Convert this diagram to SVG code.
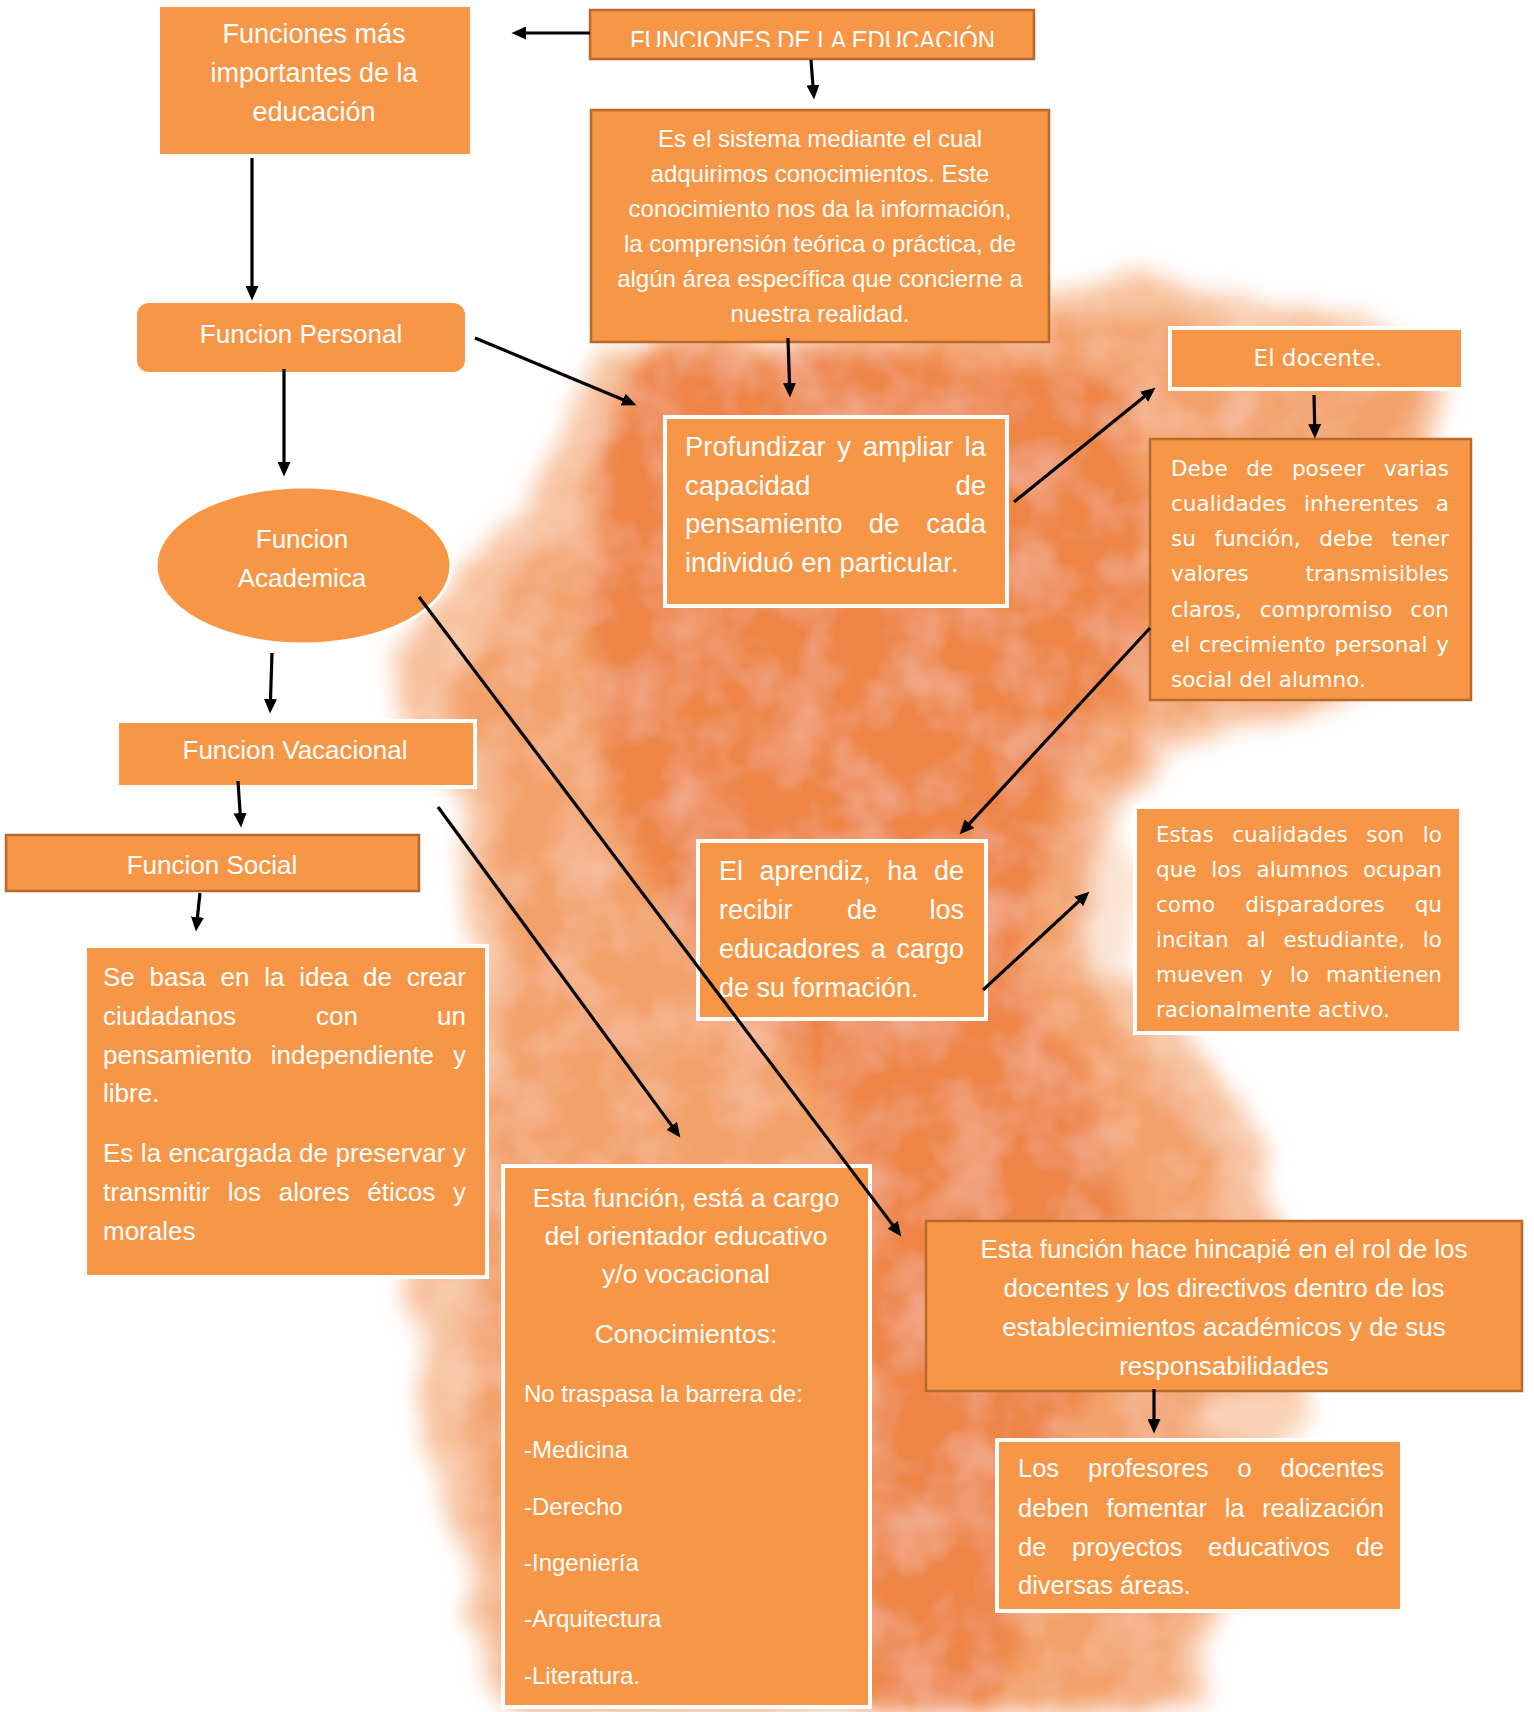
<svg xmlns="http://www.w3.org/2000/svg" width="1534" height="1712" viewBox="0 0 1534 1712">
<style>
.box{fill:#F79646}
.bd{stroke:#B8692E;stroke-width:2.5}
.wb{stroke:#FFFFFF;stroke-width:4}
.t{font-family:"Liberation Sans",Arial,sans-serif;fill:#FFFFFF}
.g{font-family:"DejaVu Sans",sans-serif;fill:#FFFFFF}
.c{text-anchor:middle}
.e{text-anchor:end}
.con line{stroke:#000;stroke-width:3.2;marker-end:url(#ah)}
</style>
<defs>
<marker id="ah" markerUnits="userSpaceOnUse" markerWidth="15" markerHeight="13" refX="6" refY="6.5" orient="auto" viewBox="0 0 15 13">
<path d="M0,0 L14.5,6.5 L0,13 Z" fill="#000"/>
</marker>
<filter id="wc" filterUnits="userSpaceOnUse" x="0" y="0" width="1534" height="1712">
<feTurbulence type="fractalNoise" baseFrequency="0.008 0.012" numOctaves="3" seed="7" result="n1"/>
<feDisplacementMap in="SourceGraphic" in2="n1" scale="55" xChannelSelector="R" yChannelSelector="G" result="d"/>
<feGaussianBlur in="d" stdDeviation="11" result="b"/>
<feTurbulence type="fractalNoise" baseFrequency="0.018" numOctaves="3" seed="4" result="n2"/>
<feColorMatrix in="n2" type="matrix" values="0 0 0 0 1  0 0 0 0 0.95  0 0 0 0 0.9  0 0 0 0.45 -0.17" result="spots"/>
<feComposite in="spots" in2="b" operator="atop"/>
</filter>
<clipPath id="clipB"><rect x="590" y="10" width="445" height="37"/></clipPath>
</defs>
<rect width="1534" height="1712" fill="#FFFFFF"/>
<g id="watercolor" filter="url(#wc)">
<path fill="#F7C19C" d="M600 345 C700 335 900 340 1040 300 C1090 285 1120 255 1148 268 C1175 290 1260 315 1350 325 L1440 340 L1445 660 C1380 690 1260 705 1190 745 C1140 775 1115 810 1110 860 C1100 920 1130 990 1190 1050 C1250 1110 1280 1180 1300 1250 L1300 1420 C1260 1500 1220 1600 1190 1712 L490 1712 C480 1640 460 1540 435 1440 C415 1370 395 1320 405 1285 C430 1200 470 1000 475 940 C470 880 450 820 435 780 C410 730 390 690 395 650 C415 610 450 575 490 545 C530 510 555 450 570 400 C578 370 590 352 600 345 Z"/>
<path fill="#F3A16B" d="M630 350 C750 340 950 345 1060 320 C1120 305 1200 335 1300 350 L1420 365 L1420 640 C1350 670 1240 690 1170 730 C1115 770 1080 830 1080 900 C1085 980 1140 1050 1180 1100 C1220 1160 1250 1250 1260 1350 C1240 1450 1200 1560 1160 1712 L515 1712 C505 1600 480 1470 465 1380 C460 1300 480 1200 500 1050 C505 950 495 850 478 780 C460 720 450 680 470 640 C505 590 560 540 590 480 C605 430 615 380 630 350 Z"/>
<path fill="#EE8546" d="M640 360 C800 350 1000 350 1120 380 C1160 450 1150 600 1140 700 C1060 760 1020 850 1030 950 C1060 1050 1120 1150 1130 1250 C1100 1400 1030 1550 1000 1712 L860 1712 C860 1550 870 1350 860 1200 C800 1050 700 950 630 850 C590 760 570 650 590 520 C605 450 620 400 640 360 Z"/>
<ellipse cx="1112" cy="905" rx="28" ry="70" fill="#FBE3D2"/>
<ellipse cx="1250" cy="1420" rx="60" ry="30" fill="#F9D2B6"/>
</g>

<g id="n-funciones-importantes">
<rect class="box" x="160" y="7" width="310" height="147"/>
<text class="t c" x="314" y="43" font-size="27">Funciones más</text>
<text class="t c" x="314" y="82" font-size="27">importantes de la</text>
<text class="t c" x="314" y="121" font-size="27">educación</text>
</g>

<g id="n-funciones-educacion">
<rect class="box bd" x="590" y="10" width="444" height="49"/>
<text class="t" x="630" y="50" font-size="27" textLength="365" lengthAdjust="spacingAndGlyphs" clip-path="url(#clipB)">FUNCIONES DE LA EDUCACIÓN</text>
</g>

<g id="n-sistema">
<rect class="box bd" x="591" y="110" width="458" height="232"/>
<text class="t c" x="820" y="147" font-size="24">Es el sistema mediante el cual</text>
<text class="t c" x="820" y="182" font-size="24">adquirimos conocimientos. Este</text>
<text class="t c" x="820" y="217" font-size="24">conocimiento nos da la información,</text>
<text class="t c" x="820" y="252" font-size="24">la comprensión teórica o práctica, de</text>
<text class="t c" x="820" y="287" font-size="24">algún área específica que concierne a</text>
<text class="t c" x="820" y="322" font-size="24">nuestra realidad.</text>
</g>

<g id="n-personal">
<rect class="box" x="137" y="303" width="328" height="69" rx="12"/>
<text class="t c" x="301" y="343" font-size="26">Funcion Personal</text>
</g>

<g id="n-academica">
<ellipse class="box" cx="303.5" cy="565.5" rx="147.5" ry="78.5" stroke="#FFFFFF" stroke-width="3"/>
<text class="t c" x="302" y="548" font-size="26">Funcion</text>
<text class="t c" x="302" y="587" font-size="26">Academica</text>
</g>

<g id="n-profundizar">
<rect class="box wb" x="665" y="417" width="342" height="189"/>
<text class="t" x="685" y="456" font-size="27.5" word-spacing="4" textLength="301" lengthAdjust="spacing">Profundizar y ampliar la</text>
<text class="t" x="685" y="495" font-size="27.5">capacidad</text>
<text class="t e" x="986" y="495" font-size="27.5">de</text>
<text class="t" x="685" y="533" font-size="27.5">pensamiento</text>
<text class="t c" x="884" y="533" font-size="27.5">de</text>
<text class="t e" x="986" y="533" font-size="27.5">cada</text>
<text class="t" x="685" y="572" font-size="27.5">individuó en particular.</text>
</g>

<g id="n-docente">
<rect class="box wb" x="1170" y="328" width="293" height="61"/>
<text class="g c" x="1318" y="366" font-size="23">El docente.</text>
</g>

<g id="n-debe">
<rect class="box bd" x="1150" y="439" width="321" height="261"/>
<text class="g" x="1171" y="476" font-size="21.5" word-spacing="11.9" textLength="278" lengthAdjust="spacing">Debe de poseer varias</text>
<text class="g" x="1171" y="511" font-size="21.5" word-spacing="10.3" textLength="278" lengthAdjust="spacing">cualidades inherentes a</text>
<text class="g" x="1171" y="546" font-size="21.5" word-spacing="11.7" textLength="278" lengthAdjust="spacing">su función, debe tener</text>
<text class="g" x="1171" y="581" font-size="21.5">valores</text>
<text class="g e" x="1449" y="581" font-size="21.5">transmisibles</text>
<text class="g" x="1171" y="617" font-size="21.5" word-spacing="10.9" textLength="278" lengthAdjust="spacing">claros, compromiso con</text>
<text class="g" x="1171" y="652" font-size="21.5" word-spacing="1.9" textLength="278" lengthAdjust="spacing">el crecimiento personal y</text>
<text class="g" x="1171" y="687" font-size="21.5">social del alumno.</text>
</g>

<g id="n-aprendiz">
<rect class="box wb" x="698" y="841" width="288" height="178"/>
<text class="t" x="719" y="880" font-size="27" word-spacing="9.1" textLength="245" lengthAdjust="spacing">El aprendiz, ha de</text>
<text class="t" x="719" y="919" font-size="27">recibir</text>
<text class="t c" x="862" y="919" font-size="27">de</text>
<text class="t e" x="964" y="919" font-size="27">los</text>
<text class="t" x="719" y="958" font-size="27" word-spacing="3.2" textLength="245" lengthAdjust="spacing">educadores a cargo</text>
<text class="t" x="719" y="997" font-size="27">de su formación.</text>
</g>

<g id="n-estas">
<rect class="box wb" x="1135" y="807" width="326" height="226"/>
<text class="g" x="1156" y="842" font-size="21.5" word-spacing="11.8" textLength="286" lengthAdjust="spacing">Estas cualidades son lo</text>
<text class="g" x="1156" y="877" font-size="21.5" word-spacing="8" textLength="286" lengthAdjust="spacing">que los alumnos ocupan</text>
<text class="g" x="1156" y="912" font-size="21.5">como</text>
<text class="g c" x="1315" y="912" font-size="21.5">disparadores</text>
<text class="g e" x="1442" y="912" font-size="21.5">qu</text>
<text class="g" x="1156" y="947" font-size="21.5" word-spacing="11" textLength="286" lengthAdjust="spacing">incitan al estudiante, lo</text>
<text class="g" x="1156" y="982" font-size="21.5" word-spacing="10.1" textLength="286" lengthAdjust="spacing">mueven y lo mantienen</text>
<text class="g" x="1156" y="1017" font-size="21.5">racionalmente activo.</text>
</g>

<g id="n-vacacional">
<rect class="box wb" x="117" y="721" width="358" height="66"/>
<text class="t c" x="295" y="759" font-size="26">Funcion Vacacional</text>
</g>

<g id="n-social">
<rect class="box bd" x="6" y="835" width="413" height="56"/>
<text class="t c" x="212" y="874" font-size="26">Funcion Social</text>
</g>

<g id="n-se-basa">
<rect class="box wb" x="85" y="946" width="402" height="331"/>
<text class="t" x="103" y="986" font-size="26" word-spacing="7.5" textLength="363" lengthAdjust="spacing">Se basa en la idea de crear</text>
<text class="t" x="103" y="1025" font-size="26">ciudadanos</text>
<text class="t c" x="337" y="1025" font-size="26">con</text>
<text class="t e" x="466" y="1025" font-size="26">un</text>
<text class="t" x="103" y="1064" font-size="26" word-spacing="11.7" textLength="363" lengthAdjust="spacing">pensamiento independiente y</text>
<text class="t" x="103" y="1102" font-size="26">libre.</text>
<text class="t" x="103" y="1162" font-size="26" word-spacing="0.3" textLength="363" lengthAdjust="spacing">Es la encargada de preservar y</text>
<text class="t" x="103" y="1201" font-size="26" word-spacing="10.6" textLength="363" lengthAdjust="spacing">transmitir los alores éticos y</text>
<text class="t" x="103" y="1240" font-size="26">morales</text>
</g>

<g id="n-vocacional-desc">
<rect class="box wb" x="503" y="1166" width="367" height="541"/>
<text class="t c" x="686" y="1207" font-size="26.5">Esta función, está a cargo</text>
<text class="t c" x="686" y="1245" font-size="26.5">del orientador educativo</text>
<text class="t c" x="686" y="1283" font-size="26.5">y/o vocacional</text>
<text class="t c" x="686" y="1343" font-size="26.5">Conocimientos:</text>
<text class="t" x="524" y="1402" font-size="24">No traspasa la barrera de:</text>
<text class="t" x="524" y="1458" font-size="24">-Medicina</text>
<text class="t" x="524" y="1515" font-size="24">-Derecho</text>
<text class="t" x="524" y="1571" font-size="24">-Ingeniería</text>
<text class="t" x="524" y="1627" font-size="24">-Arquitectura</text>
<text class="t" x="524" y="1684" font-size="24">-Literatura.</text>
</g>

<g id="n-hincapie">
<rect class="box bd" x="926" y="1221" width="596" height="170"/>
<text class="t c" x="1224" y="1258" font-size="26">Esta función hace hincapié en el rol de los</text>
<text class="t c" x="1224" y="1297" font-size="26">docentes y los directivos dentro de los</text>
<text class="t c" x="1224" y="1336" font-size="26">establecimientos académicos y de sus</text>
<text class="t c" x="1224" y="1375" font-size="26">responsabilidades</text>
</g>

<g id="n-profesores">
<rect class="box wb" x="997" y="1440" width="405" height="171"/>
<text class="t" x="1018" y="1477" font-size="25.5" word-spacing="21.8" textLength="366" lengthAdjust="spacing">Los profesores o docentes</text>
<text class="t" x="1018" y="1517" font-size="25.5" word-spacing="10.5" textLength="366" lengthAdjust="spacing">deben fomentar la realización</text>
<text class="t" x="1018" y="1556" font-size="25.5" word-spacing="18.5" textLength="366" lengthAdjust="spacing">de proyectos educativos de</text>
<text class="t" x="1018" y="1594" font-size="25.5">diversas áreas.</text>
</g>

<g id="connectors" class="con">
<line x1="590" y1="33" x2="520" y2="33"/>
<line x1="811" y1="60" x2="813.4" y2="91"/>
<line x1="252" y1="158" x2="252" y2="292"/>
<line x1="475" y1="338" x2="628.6" y2="401.9"/>
<line x1="788" y1="338" x2="789.7" y2="389"/>
<line x1="284" y1="369" x2="284" y2="468"/>
<line x1="1014" y1="502" x2="1148.8" y2="393"/>
<line x1="1314" y1="395" x2="1314.8" y2="430"/>
<line x1="1150" y1="628" x2="965.4" y2="828.1"/>
<line x1="983" y1="990" x2="1083.1" y2="897.4"/>
<line x1="419" y1="597" x2="896.2" y2="1229.6"/>
<line x1="272" y1="653" x2="270.3" y2="705"/>
<line x1="238" y1="781" x2="240.5" y2="819"/>
<line x1="438" y1="807" x2="675.3" y2="1130.6"/>
<line x1="200" y1="893" x2="196.8" y2="923"/>
<line x1="1154" y1="1389" x2="1154" y2="1425"/>
</g>
</svg>
